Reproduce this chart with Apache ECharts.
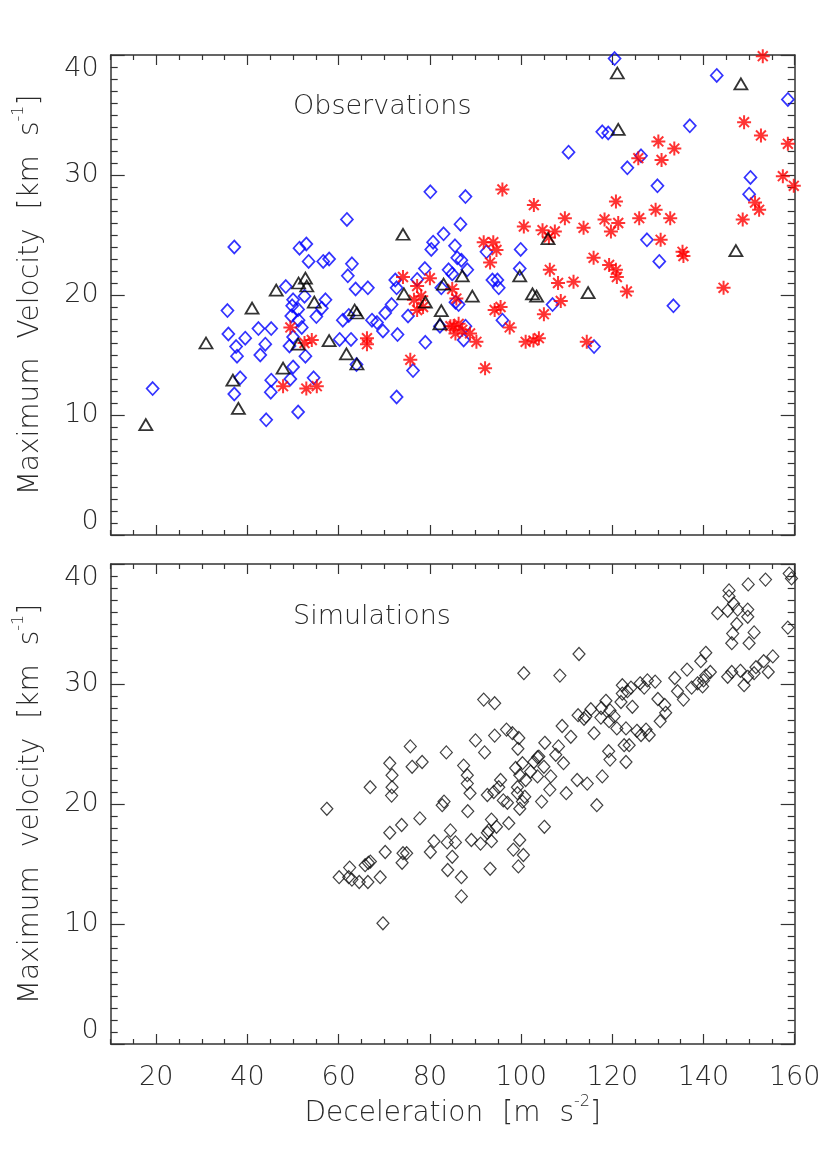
<!DOCTYPE html>
<html>
<head>
<meta charset="utf-8">
<script src="https://cdn.jsdelivr.net/npm/echarts@6/dist/echarts.min.js"></script>
<style>
html,body{margin:0;padding:0;background:#fff;}
#chart{width:830px;height:1162px;}
</style>
</head>
<body>
<div id="chart"></div>
<script>
// ---- data (deceleration [m s^-2], maximum velocity [km s^-1]) ----
const obsBlueDiamonds = [
  [61.8,26.3],[37.1,24.0],[51.4,23.9],[52.9,24.25],[53.4,22.8],[56.6,22.8],[57.9,23.0],[62.9,22.6],[62.0,21.6],[63.7,20.5],
  [66.4,20.6],[48.4,20.7],[50.0,19.6],[52.5,19.9],[49.8,19.1],[51.1,18.8],[57.1,19.6],[56.3,18.9],[55.1,18.2],[49.6,18.25],
  [51.2,17.9],[51.9,17.3],[35.6,18.7],[35.8,16.75],[37.5,15.7],[37.7,14.9],[39.5,16.4],[42.4,17.2],[45.2,17.2],[43.9,15.9],
  [42.8,15.0],[50.0,16.5],[49.2,15.75],[52.7,14.9],[50.0,14.0],[49.4,13.0],[45.2,12.9],[45.1,11.9],[54.5,13.1],[38.4,13.1],
  [37.1,11.75],[19.2,12.2],[51.1,10.25],[44.1,9.6],[60.9,17.9],[62.2,18.3],[60.2,16.3],[62.7,16.3],[63.9,14.2],[67.3,17.9],
  [68.4,17.7],[69.7,17.0],[70.2,18.5],[71.6,19.2],[72.9,16.7],[72.7,11.5],[72.4,21.25],[72.7,20.6],[75.2,18.25],
  [120.5,39.7],[142.9,38.3],[158.5,36.3],[137.0,34.1],[117.8,33.6],[119.1,33.5],[110.4,31.9],[126.3,31.6],[123.3,30.6],[129.9,29.1],
  [150.3,29.8],[150.0,28.4],[80.1,28.6],[87.8,28.2],[86.7,25.9],[83.0,25.1],[80.7,24.4],[80.3,23.8],[85.5,24.1],[86.0,23.1],
  [86.9,22.9],[88.2,22.1],[84.1,22.1],[84.9,21.75],[78.9,22.2],[77.2,21.3],[92.4,23.6],[99.9,23.8],[99.7,22.2],[93.7,21.25],
  [94.8,21.25],[95.1,20.6],[82.5,20.6],[85.6,19.4],[86.3,19.2],[106.9,19.2],[127.6,24.6],[130.3,22.8],[133.4,19.1],
  [82.2,17.4],[87.8,17.4],[87.4,16.25],[95.9,17.9],[79.0,16.06],[116.0,15.7],[76.3,13.7]
];
const obsBlackTriangles = [
  [74.1,25.06],[51.2,21.0],[52.7,21.4],[53.0,20.75],[46.3,20.4],[41.0,18.9],[54.65,19.4],[63.5,18.75],[64.0,18.5],[74.3,20.1],
  [30.9,16.0],[51.1,15.9],[57.9,16.2],[47.8,13.9],[36.8,12.9],[61.7,15.1],[64.0,14.25],[38.0,10.55],[17.7,9.2],
  [121.1,38.5],[148.2,37.6],[121.3,33.8],[105.9,24.7],[147.1,23.7],[87.1,21.6],[99.7,21.6],[83.0,20.9],[89.3,19.9],[79.0,19.4],
  [102.5,20.1],[103.4,19.9],[114.7,20.2],[82.5,18.7],[82.2,17.6]
];
const obsRedAsterisks = [
  [49.4,17.3],[52.5,16.0],[54.1,16.25],[66.2,16.4],[66.2,15.9],[47.8,12.4],[52.9,12.2],[55.2,12.4],[74.1,21.5],
  [153.0,39.9],[148.9,34.4],[152.6,33.3],[158.5,32.6],[130.1,32.8],[133.6,32.2],[125.7,31.4],[130.8,31.25],[157.4,29.9],[159.8,29.1],
  [95.9,28.8],[102.8,27.5],[120.8,27.8],[151.3,27.7],[152.2,27.1],[129.5,27.1],[125.9,26.4],[132.7,26.4],[148.6,26.3],[118.3,26.3],
  [121.3,26.0],[119.7,25.3],[109.6,26.4],[100.6,25.7],[104.7,25.4],[107.4,25.3],[106.1,24.8],[113.7,25.6],[91.8,24.4],[93.9,24.4],
  [94.6,23.75],[93.2,22.7],[130.6,24.6],[135.4,23.6],[135.6,23.25],[115.9,23.1],[119.3,22.5],[120.8,22.1],[121.0,21.5],[106.3,22.1],
  [108.1,21.0],[111.5,21.1],[123.2,20.3],[144.4,20.6],[108.7,19.5],[105.0,18.4],[77.2,20.75],[80.0,21.4],[76.5,19.6],[78.1,19.9],
  [78.5,19.0],[77.2,18.75],[84.9,20.5],[85.8,19.7],[86.3,17.6],[85.2,17.4],[87.1,17.1],[84.5,17.4],[88.8,16.8],[90.2,16.1],
  [85.6,16.8],[94.2,18.75],[95.5,19.0],[97.5,17.3],[101.0,16.1],[102.7,16.2],[103.9,16.4],[114.4,16.1],[92.1,13.9],[75.7,14.6]
];
const simDiamonds = [
  [112.7,32.5],[100.6,30.9],[108.5,30.7],[91.8,28.7],[94.2,28.4],[112.5,27.4],[113.8,27.1],[96.8,26.2],[98.1,25.9],[99.5,25.5],
  [94.2,25.7],[90.0,25.3],[75.7,24.8],[83.6,24.3],[92.0,24.3],[99.3,24.6],[105.2,25.1],[109.0,26.5],[110.9,25.6],[108.2,24.8],
  [107.6,24.1],[109.3,23.4],[103.6,23.9],[71.2,23.4],[76.1,23.1],[78.3,23.5],[71.7,22.4],[87.4,23.2],[88.2,22.4],[88.2,21.7],
  [88.8,20.9],[71.7,21.4],[71.6,20.7],[66.9,21.4],[100.3,23.4],[102.8,23.5],[103.9,23.95],[98.8,23.0],[105.0,23.1],[99.7,22.4],
  [102.1,22.7],[103.6,22.3],[106.5,22.3],[101.0,22.0],[99.2,21.4],[95.5,22.0],[95.1,21.4],[94.0,21.0],[92.6,20.75],[106.3,21.2],
  [112.3,22.0],[114.5,21.7],[109.9,20.9],[100.8,20.6],[99.2,20.9],[100.3,20.2],[99.7,19.6],[104.5,20.2],[96.1,20.3],[97.0,20.1],
  [83.1,20.2],[82.7,19.9],[88.3,19.4],[77.8,18.8],[73.8,18.25],[71.2,17.6],[70.2,16.0],[74.1,15.9],[74.9,15.9],[73.9,15.1],
  [66.95,15.2],[69.1,13.9],[69.7,10.06],[84.5,17.8],[80.9,16.9],[80.1,16.0],[83.8,16.8],[85.6,16.8],[84.9,15.6],[83.9,14.5],
  [86.9,13.9],[86.9,12.3],[89.1,17.0],[91.1,16.7],[92.6,17.6],[93.5,18.7],[94.6,18.1],[92.9,17.8],[93.5,16.9],[97.3,18.4],
  [105.1,18.1],[99.7,17.0],[98.3,16.2],[100.5,15.75],[99.4,14.8],[93.2,14.6],
  [158.8,39.2],[159.3,38.8],[149.8,38.3],[153.6,38.7],[145.6,37.8],[145.6,37.3],[146.6,36.7],[143.1,35.9],[145.3,36.1],[147.5,36.2],
  [149.7,36.2],[149.7,35.6],[147.3,35.0],[146.4,34.2],[151.1,34.3],[146.2,33.4],[150.0,33.4],[158.5,34.7],[140.5,32.6],[139.4,31.9],
  [136.4,31.2],[133.7,30.5],[141.5,31.0],[140.5,30.7],[140.0,30.3],[138.7,30.06],[137.4,29.7],[139.8,29.8],[134.3,29.4],[135.6,28.7],
  [145.3,30.6],[146.2,31.0],[148.1,31.1],[149.7,30.6],[148.9,29.9],[151.1,30.9],[151.5,31.4],[153.2,31.9],[155.2,32.3],[154.2,31.0],
  [129.4,30.2],[127.7,30.3],[126.1,30.06],[127.0,29.7],[124.1,29.7],[122.2,29.9],[122.2,29.2],[123.3,29.4],[130.0,28.75],[121.9,28.5],
  [118.6,28.6],[124.4,28.1],[131.5,28.25],[131.7,27.6],[130.5,26.9],[115.3,27.9],[114.2,27.3],[117.6,28.0],[119.5,27.8],[117.5,27.2],
  [120.4,27.3],[119.3,26.9],[121.0,26.3],[116.0,25.9],[123.0,26.3],[125.4,26.1],[127.4,26.2],[128.1,25.75],[126.3,25.75],[122.6,24.9],
  [123.7,24.9],[119.2,24.4],[119.5,23.7],[123.0,23.5],[117.8,22.3],[116.6,19.9],
  [57.4,19.6],[66.5,15.1],[65.8,14.9],[62.4,14.7],[60.1,13.9],[62.2,13.9],[62.9,13.7],[64.5,13.5],[66.4,13.5]
];
// ---- axes / ticks / texts ----
const xRange = [10, 160];
const yRange = [0, 40];
const xMajorTicks = [20, 40, 60, 80, 100, 120, 140, 160];
const xMinorStep = 5;
const yMajorInterval = 10;
const yMinorSplits = 10;
const panelLabels = ['Observations', 'Simulations'];
const yTitleWords = [['Maximum', 'Velocity', '[km', 's'], ['Maximum', 'velocity', '[km', 's']];
const yTitleSup = '-1';
const xTitleWords = ['Deceleration', '[m', 's'];
const xTitleSup = '-2';

const xMinorTicks = [];
for (let v = xRange[0]; v <= xRange[1]; v += xMinorStep) if (xMajorTicks.indexOf(v) < 0) xMinorTicks.push(v);

const FONT = 'DejaVu Sans';
const FW = 200;
const TXT = '#2a2a2a';
const AX = '#333';
const FS = 27;
const NFS = 28;

const grids = [
  {left: 110.7, top: 55, width: 684, height: 480},
  {left: 110.7, top: 564, width: 684, height: 480}
];

const richName = {
  t: {fontFamily: FONT, fontWeight: FW, fontSize: NFS, color: TXT, verticalAlign: 'bottom', lineHeight: 34},
  w: {fontFamily: FONT, fontWeight: FW, fontSize: NFS, color: TXT, verticalAlign: 'bottom', lineHeight: 34, width: 19},
  s: {fontFamily: FONT, fontWeight: FW, fontSize: 16, color: TXT, verticalAlign: 'top', lineHeight: 16}
};
function richTitle(words, sup) {
  const parts = [];
  words.forEach((wd, i) => { if (i) parts.push('{w| }'); parts.push('{t|' + wd + '}'); });
  return parts.join('') + '{s|' + sup + '}{t|]}';
}

function xAx(g, pos, values, len, withLabels) {
  const a = {
    type: 'value', gridIndex: g, position: pos, min: xRange[0], max: xRange[1],
    axisLine: {show: len > 6, onZero: false, lineStyle: {color: AX, width: 1.5}},
    axisTick: {show: true, inside: true, length: len, customValues: values, lineStyle: {color: AX, width: 1.2}},
    axisLabel: {show: false},
    splitLine: {show: false}
  };
  if (withLabels) {
    a.axisLabel = {show: true, customValues: xMajorTicks, margin: 20, fontFamily: FONT, fontWeight: FW, fontSize: FS, color: TXT};
    a.name = richTitle(xTitleWords, xTitleSup);
    a.nameLocation = 'middle';
    a.nameGap = 50;
    a.nameTextStyle = {rich: richName};
  }
  return a;
}
function yAx(g, pos, withLabels) {
  const a = {
    type: 'value', gridIndex: g, position: pos, min: yRange[0], max: yRange[1], interval: yMajorInterval,
    axisLine: {show: true, onZero: false, lineStyle: {color: AX, width: 1.5}},
    axisTick: {show: true, inside: true, length: 14, lineStyle: {color: AX, width: 1.2}},
    minorTick: {show: true, splitNumber: yMinorSplits, length: 7, lineStyle: {color: AX, width: 1.2}},
    axisLabel: {show: false},
    splitLine: {show: false}
  };
  if (withLabels) {
    a.axisLabel = {show: true, margin: 12, fontFamily: FONT, fontWeight: FW, fontSize: FS, color: TXT,
      verticalAlignMinLabel: 'bottom', verticalAlignMaxLabel: 'top'};
    a.name = richTitle(yTitleWords[g], yTitleSup);
    a.nameLocation = 'middle';
    a.nameGap = 66;
    a.nameTextStyle = {rich: richName};
  }
  return a;
}

const xAxes = [], yAxes = [];
for (let g = 0; g < 2; g++) {
  xAxes.push(xAx(g, 'bottom', xMajorTicks, 10, g === 1));
  xAxes.push(xAx(g, 'bottom', xMinorTicks, 5, false));
  xAxes.push(xAx(g, 'top', xMajorTicks, 10, false));
  xAxes.push(xAx(g, 'top', xMinorTicks, 5, false));
  yAxes.push(yAx(g, 'left', true));
  yAxes.push(yAx(g, 'right', false));
}

const asteriskPath = 'path://M0,-10L0,10M-10,0L10,0M-7.07,-7.07L7.07,7.07M-7.07,7.07L7.07,-7.07';

const series = [
  {type: 'scatter', xAxisIndex: 0, yAxisIndex: 0, data: obsBlueDiamonds, symbol: 'diamond', symbolSize: [12, 13],
   itemStyle: {color: 'rgba(0,0,0,0)', borderColor: '#0000ff', borderWidth: 1.7}},
  {type: 'scatter', xAxisIndex: 0, yAxisIndex: 0, data: obsRedAsterisks, symbol: asteriskPath, symbolSize: [14, 14],
   itemStyle: {color: 'rgba(0,0,0,0)', borderColor: '#ff0000', borderWidth: 2}},
  {type: 'scatter', xAxisIndex: 0, yAxisIndex: 0, data: obsBlackTriangles, symbol: 'triangle', symbolSize: [13, 11],
   itemStyle: {color: 'rgba(0,0,0,0)', borderColor: '#000000', borderWidth: 1.8}},
  {type: 'scatter', xAxisIndex: 4, yAxisIndex: 2, data: simDiamonds, symbol: 'diamond', symbolSize: [12, 13],
   itemStyle: {color: 'rgba(0,0,0,0)', borderColor: '#111111', borderWidth: 1.2}}
];

const chart = echarts.init(document.getElementById('chart'), null, {renderer: 'canvas'});
chart.setOption({
  animation: false,
  backgroundColor: '#ffffff',
  grid: grids,
  xAxis: xAxes,
  yAxis: yAxes,
  series: series,
  graphic: [
    {type: 'text', x: 293, y: 107, silent: true,
     style: {text: panelLabels[0], fontFamily: FONT, fontWeight: FW, fontSize: FS, fill: TXT, verticalAlign: 'middle'}},
    {type: 'text', x: 293, y: 617, silent: true,
     style: {text: panelLabels[1], fontFamily: FONT, fontWeight: FW, fontSize: FS, fill: TXT, verticalAlign: 'middle'}}
  ]
});
</script>
</body>
</html>
